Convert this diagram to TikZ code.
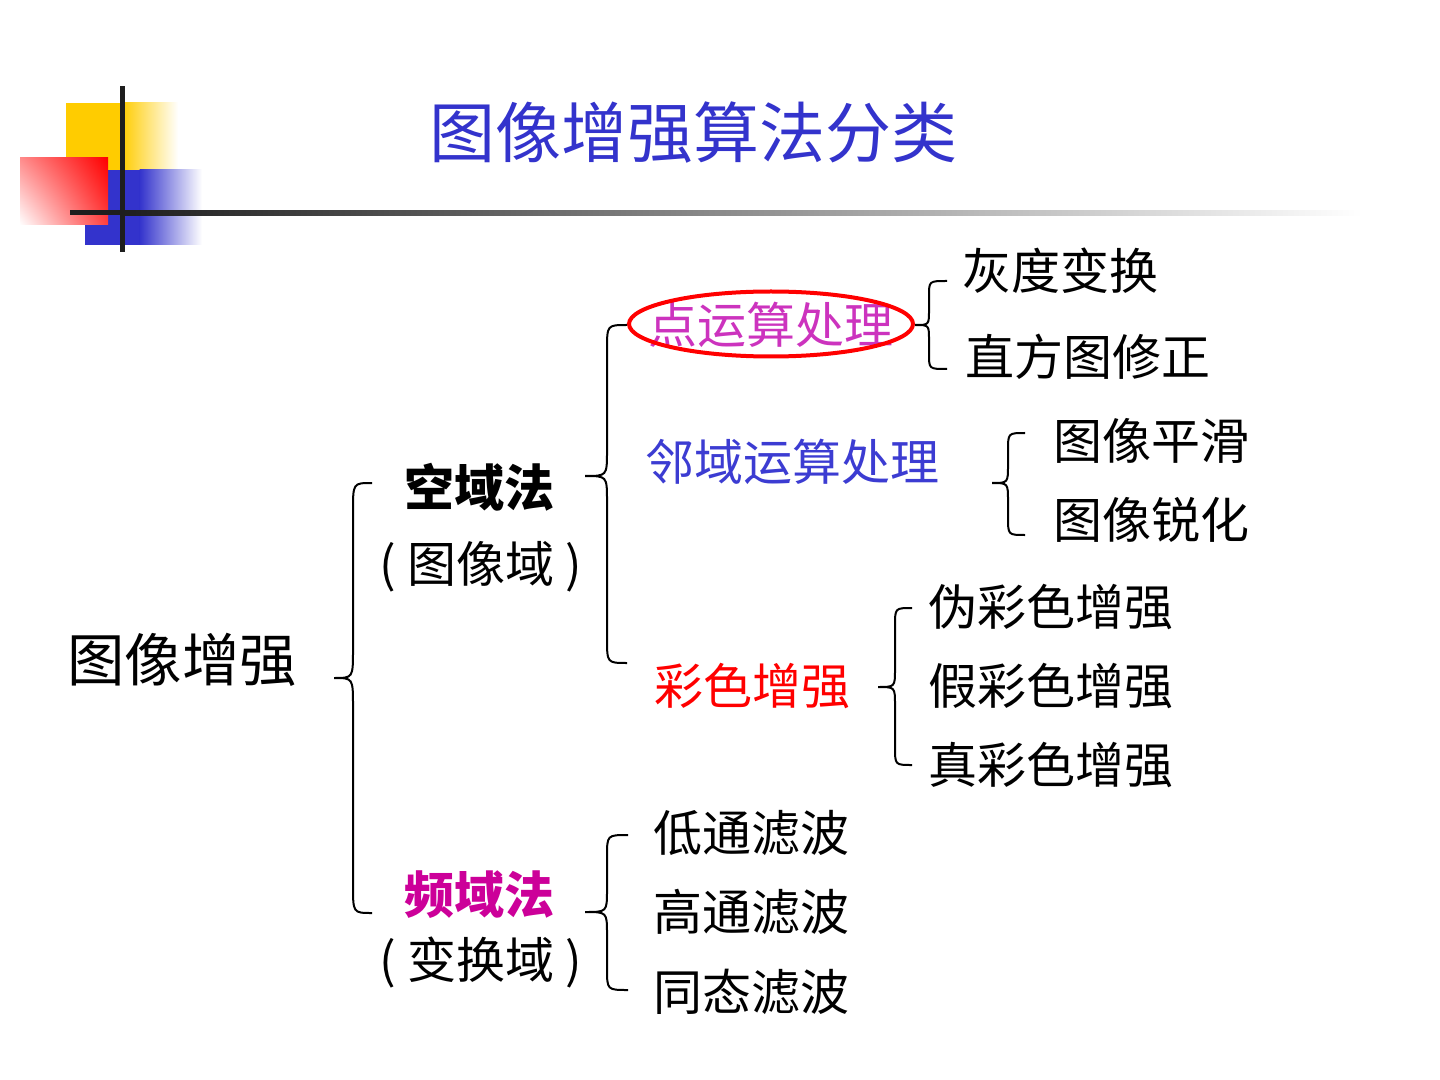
\documentclass[tikz,border=0pt]{standalone}
\usepackage{fontspec}
\newfontfamily\cjk{Noto Sans CJK SC}
\usetikzlibrary{shapes.geometric,shadings}
\definecolor{titleblue}{RGB}{51,51,204}
\definecolor{ptmag}{RGB}{204,51,190}
\definecolor{freqmag}{RGB}{204,0,153}
\definecolor{nbblue}{RGB}{60,60,210}
\definecolor{colred}{RGB}{255,0,0}
\definecolor{decoyellow}{RGB}{255,204,0}
\definecolor{decoblue}{RGB}{51,51,204}
\definecolor{decored}{RGB}{255,0,0}
\definecolor{barblack}{RGB}{30,30,30}
\tikzset{
  txt/.style={inner sep=0pt, anchor=center, font=\cjk\fontsize{24.5pt}{26pt}\selectfont},
  bigtxt/.style={inner sep=0pt, anchor=center, font=\cjk\fontsize{28.7pt}{30pt}\selectfont},
  boldtxt/.style={inner sep=0pt, anchor=center, font=\cjk\bfseries\fontsize{25pt}{27pt}\selectfont},
  titletxt/.style={inner sep=0pt, anchor=center, text=titleblue, font=\cjk\fontsize{33pt}{35pt}\selectfont},
  bracestyle/.style={draw=black, line width=1pt},
}
% brace opening to the right: xarm, xv, xtip, ytop, ytip, ybot, r
\newcommand\mybrace[7]{%
  \draw[bracestyle] (#1,#4) .. controls (#2,#4) .. (#2,{#4+#7}) -- (#2,{#5-#7})
    .. controls (#2,#5) .. (#3,#5) .. controls (#2,#5) .. (#2,{#5+#7})
    -- (#2,{#6-#7}) .. controls (#2,#6) .. (#1,#6);}
\begin{document}
\begin{tikzpicture}[x=0.5pt,y=-0.5pt]
\useasboundingbox (0,0) rectangle (1440,1080);
\fill[white] (0,0) rectangle (1440,1080);
% decoration
\fill[decoyellow] (66,103) rectangle (122,170);
\shade[left color=decoyellow, right color=white] (121.5,103) rectangle (178,170);
\fill[decoblue] (85,170) rectangle (140,245);
\shade[left color=decoblue, right color=white] (139.5,170) rectangle (202,245);
\shade[upper left=decored!45, upper right=decored, lower left=white, lower right=decored!75] (20,158) rectangle (108,225);
\fill[barblack] (70,210.5) rectangle (122,215.5);
\shade[left color=barblack, right color=white] (121.5,210.5) rectangle (1362,215.5);
\fill[barblack] (119.5,86) rectangle (124.5,252);
% title
\node[titletxt] (title) at (693,133) {图像增强算法分类};
% texts
\node[bigtxt] (root) at (182,660) {图像增强};
\node[boldtxt] (space) at (479,487) {空域法};
\node[txt] (spacesub) at (481,567) {( 图像域 )};
\node[boldtxt, text=freqmag] (freq) at (479,895) {频域法};
\node[txt] (freqsub) at (481,962) {( 变换域 )};
\node[txt, text=ptmag] (point) at (771,325) {点运算处理};
\node[draw=red, line width=2pt, ellipse, minimum width=142pt, minimum height=32.5pt, inner sep=0pt] (pointring) at (771,324) {};
\node[txt, text=nbblue] (nb) at (792,462) {邻域运算处理};
\node[txt, text=colred] (color) at (752,686) {彩色增强};
\node[txt] (gray) at (1060,271) {灰度变换};
\node[txt] (hist) at (1088,357) {直方图修正};
\node[txt] (smooth) at (1151,441) {图像平滑};
\node[txt] (sharp) at (1151,520) {图像锐化};
\node[txt] (pseudo) at (1051,607) {伪彩色增强};
\node[txt] (false) at (1051,686) {假彩色增强};
\node[txt] (true) at (1051,765) {真彩色增强};
\node[txt] (low) at (751,833) {低通滤波};
\node[txt] (high) at (751,912) {高通滤波};
\node[txt] (homo) at (751,992) {同态滤波};
% braces
\mybrace{372}{353}{334}{483}{678}{913}{28}
\mybrace{627}{607}{585}{325}{476}{663}{25}
\mybrace{628}{607}{585}{835}{912}{990}{22}
\mybrace{947}{929}{915}{281}{325}{369}{15}
\mybrace{1025}{1008}{992}{433}{483}{535}{18}
\mybrace{912}{895}{878}{608}{687}{765}{18}
\end{tikzpicture}
\end{document}
